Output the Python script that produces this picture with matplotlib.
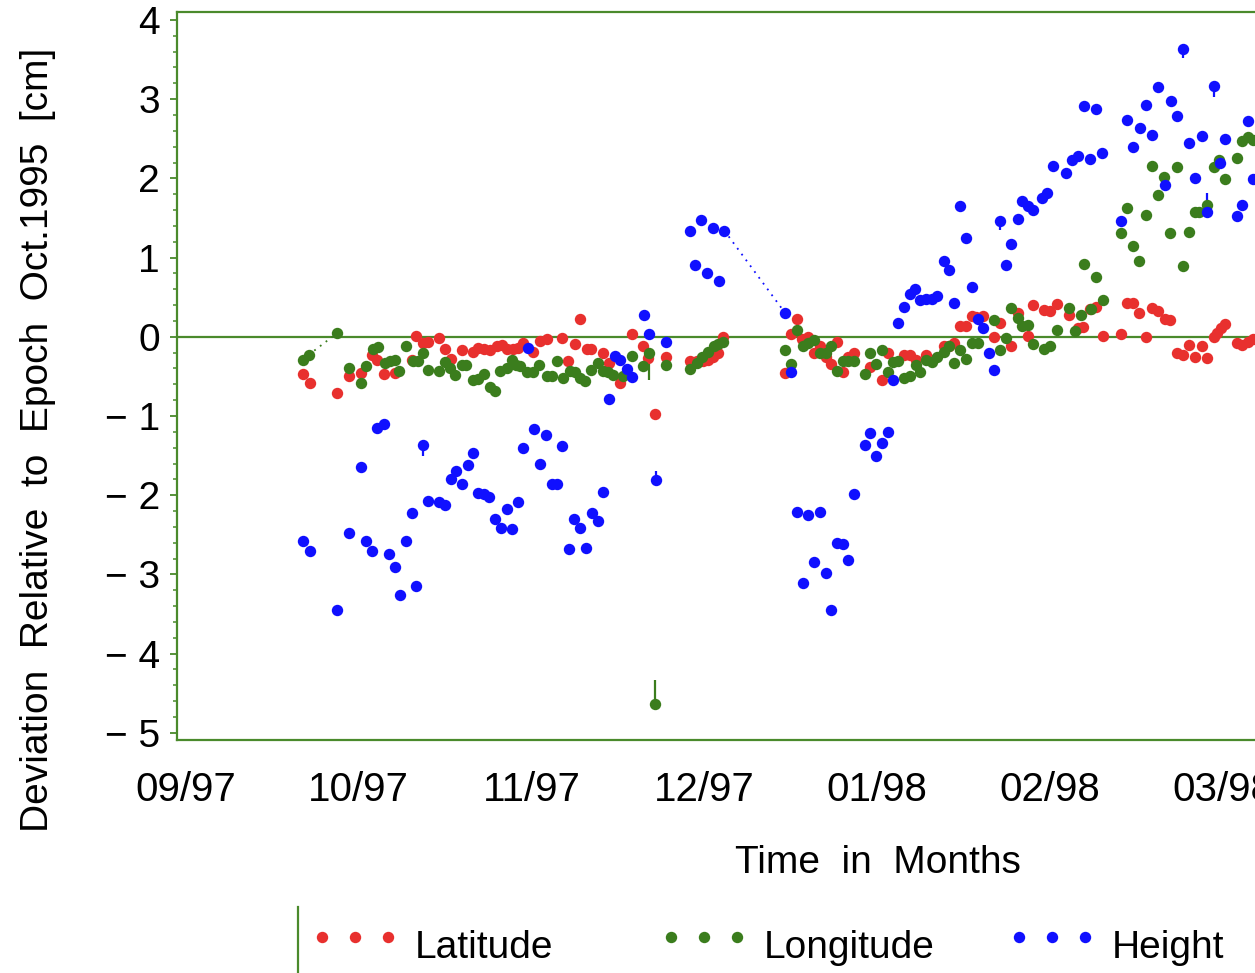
import numpy as np
import matplotlib
matplotlib.use("Agg")
import matplotlib.pyplot as plt
from matplotlib.lines import Line2D
from matplotlib.ticker import FixedLocator, FuncFormatter, MultipleLocator

plt.rcParams["font.family"] = ["Liberation Sans", "DejaVu Sans"]

# Daily GPS solutions: day counted from 1 Sep 1997, deviation in cm
lat_day = [21.0, 22.2, 27.0, 29.1, 31.1, 33.0, 33.9, 35.1, 37.1, 40.1,
           40.9, 42.1, 43.0, 44.9, 45.9, 46.9, 48.9, 50.9, 51.8, 52.7,
           53.8, 55.0, 55.9, 56.8, 57.9, 58.8, 59.7, 61.5, 62.6, 63.8,
           66.6, 67.6, 68.8, 69.7, 70.9, 71.7, 73.7, 74.8, 76.7, 78.9,
           80.8, 81.7, 82.9, 84.9, 89.0, 90.2, 91.4, 92.3, 93.1, 94.0,
           94.9, 105.8, 106.8, 107.9, 108.8, 109.9, 110.9, 111.9, 112.9, 113.9,
           115.0, 115.9, 116.9, 117.9, 120.8, 122.8, 123.9, 126.8, 127.8, 128.8,
           130.6, 131.6, 133.7, 134.7, 135.6, 136.6, 137.6, 138.6, 139.4, 140.6,
           142.5, 143.6, 145.6, 146.7, 148.5, 149.5, 151.4, 152.4, 153.6, 155.7,
           157.3, 158.3, 159.5, 160.5, 161.7, 164.9, 166.0, 167.1, 168.1, 169.3,
           170.3, 171.5, 172.7, 173.5, 174.7, 175.8, 176.9, 177.9, 179.1, 180.1,
           181.2, 181.9, 182.6, 183.3, 185.3, 186.3, 187.2, 188.1]
lat_val = [-0.47, -0.58, -0.71, -0.50, -0.46, -0.23, -0.29, -0.47, -0.46, -0.29,
           0.01, -0.08, -0.07, -0.02, -0.16, -0.28, -0.17, -0.19, -0.14, -0.16,
           -0.17, -0.12, -0.10, -0.16, -0.16, -0.14, -0.08, -0.19, -0.05, -0.03,
           -0.02, -0.30, -0.09, 0.22, -0.16, -0.16, -0.21, -0.33, -0.58, 0.03,
           -0.12, -0.27, -0.97, -0.25, -0.30, -0.31, -0.31, -0.29, -0.25, -0.21,
           0.00, -0.46, 0.03, 0.23, -0.03, 0.00, -0.20, -0.11, -0.25, -0.34,
           -0.06, -0.44, -0.25, -0.21, -0.38, -0.54, -0.21, -0.23, -0.23, -0.29,
           -0.23, -0.29, -0.12, -0.11, -0.08, 0.14, 0.14, 0.26, 0.25, 0.26,
           0.00, 0.17, -0.12, 0.30, 0.01, 0.40, 0.34, 0.32, 0.42, 0.28,
           0.11, 0.12, 0.35, 0.38, 0.01, 0.03, 0.43, 0.43, 0.30, 0.00,
           0.36, 0.33, 0.22, 0.21, -0.20, -0.23, -0.10, -0.26, -0.11, -0.27,
           0.00, 0.05, 0.11, 0.16, -0.08, -0.10, -0.06, -0.03]

lon_day = [21.0, 21.9, 27.0, 29.1, 31.1, 32.1, 33.3, 34.2, 35.4, 36.2,
           37.1, 37.9, 39.1, 40.3, 41.2, 42.1, 43.0, 44.9, 45.9, 46.8,
           47.7, 48.9, 49.7, 50.9, 51.8, 52.7, 53.8, 54.7, 55.6, 56.8,
           57.7, 58.5, 59.1, 60.3, 61.5, 62.5, 63.8, 64.7, 65.6, 66.7,
           67.9, 68.8, 69.7, 70.6, 71.7, 72.9, 73.8, 74.7, 75.5, 77.3,
           78.8, 80.8, 81.9, 82.9, 84.9, 89.0, 90.2, 91.1, 92.2, 93.2,
           94.0, 94.9, 105.8, 106.8, 107.9, 108.9, 109.9, 110.9, 111.9, 112.9,
           113.9, 115.0, 115.9, 116.9, 117.9, 119.8, 120.7, 121.8, 122.8, 123.9,
           124.7, 125.7, 126.7, 127.8, 128.8, 129.6, 130.6, 131.6, 132.5, 133.7,
           134.7, 135.6, 136.6, 137.6, 138.6, 139.7, 142.5, 143.6, 144.6, 145.6,
           146.7, 147.5, 148.5, 149.5, 151.4, 152.4, 153.6, 155.8, 156.8, 157.9,
           158.4, 159.6, 160.5, 161.7, 164.9, 166.0, 167.1, 168.1, 169.3, 170.3,
           171.5, 172.5, 173.5, 174.7, 175.8, 176.9, 177.9, 178.7, 180.0, 181.2,
           182.2, 183.3, 185.3, 186.3, 187.2, 188.1]
lon_val = [-0.29, -0.23, 0.05, -0.40, -0.58, -0.37, -0.15, -0.13, -0.33, -0.30,
           -0.29, -0.43, -0.12, -0.31, -0.31, -0.20, -0.42, -0.43, -0.32, -0.40,
           -0.48, -0.35, -0.35, -0.54, -0.53, -0.47, -0.64, -0.68, -0.43, -0.40,
           -0.29, -0.35, -0.37, -0.44, -0.44, -0.35, -0.49, -0.50, -0.31, -0.52,
           -0.43, -0.44, -0.52, -0.56, -0.42, -0.33, -0.43, -0.44, -0.48, -0.50,
           -0.24, -0.37, -0.21, -4.63, -0.35, -0.41, -0.33, -0.25, -0.19, -0.12,
           -0.09, -0.06, -0.17, -0.34, 0.09, -0.12, -0.08, -0.04, -0.21, -0.21,
           -0.12, -0.43, -0.31, -0.30, -0.30, -0.47, -0.21, -0.34, -0.17, -0.45,
           -0.32, -0.31, -0.52, -0.49, -0.35, -0.45, -0.29, -0.32, -0.25, -0.19,
           -0.12, -0.33, -0.17, -0.28, -0.08, -0.08, 0.21, -0.17, -0.02, 0.36,
           0.24, 0.14, 0.15, -0.09, -0.16, -0.12, 0.09, 0.36, 0.07, 0.28,
           0.92, 0.35, 0.76, 0.46, 1.31, 1.62, 1.15, 0.96, 1.54, 2.16,
           1.79, 2.02, 1.31, 2.14, 0.89, 1.32, 1.58, 1.58, 1.66, 2.14,
           2.23, 1.99, 2.26, 2.47, 2.52, 2.49]

hgt_day = [21.0, 22.2, 27.0, 29.1, 31.1, 32.1, 33.1, 34.0, 35.1, 36.1,
           37.1, 38.0, 39.0, 40.1, 40.9, 42.0, 43.0, 44.9, 45.9, 46.9,
           47.9, 48.9, 49.9, 50.8, 51.8, 52.7, 53.7, 54.7, 55.7, 56.8,
           57.7, 58.7, 59.7, 60.6, 61.6, 62.6, 63.7, 64.7, 65.7, 66.6,
           67.7, 68.7, 69.7, 70.7, 71.8, 72.8, 73.8, 74.8, 75.8, 76.7,
           77.9, 78.8, 81.0, 81.9, 83.0, 84.9, 89.0, 90.0, 91.0, 92.0,
           93.1, 94.1, 95.1, 105.8, 106.8, 107.9, 108.9, 109.9, 110.9, 111.9,
           112.9, 113.9, 115.0, 115.9, 116.9, 117.9, 119.8, 120.8, 121.8, 122.8,
           123.9, 124.7, 125.7, 126.7, 127.7, 128.6, 129.6, 130.6, 131.6, 132.6,
           133.7, 134.7, 135.6, 136.6, 137.6, 138.6, 139.7, 140.6, 141.7, 142.5,
           143.6, 144.6, 145.6, 146.7, 147.5, 148.5, 149.5, 151.0, 151.9, 153.0,
           155.2, 156.3, 157.4, 158.4, 159.5, 160.5, 161.6, 164.9, 166.0, 167.1,
           168.2, 169.3, 170.3, 171.4, 172.7, 173.7, 174.7, 175.8, 176.9, 178.0,
           179.1, 180.1, 181.3, 182.4, 183.3, 185.3, 186.3, 187.3, 188.2]
hgt_val = [-2.58, -2.70, -3.45, -2.48, -1.64, -2.58, -2.71, -1.15, -1.10, -2.74,
           -2.91, -3.26, -2.58, -2.23, -3.14, -1.37, -2.07, -2.08, -2.12, -1.80,
           -1.69, -1.86, -1.62, -1.47, -1.97, -1.98, -2.02, -2.30, -2.42, -2.18,
           -2.43, -2.08, -1.41, -0.14, -1.17, -1.60, -1.24, -1.86, -1.86, -1.38,
           -2.68, -2.30, -2.42, -2.66, -2.23, -2.33, -1.96, -0.79, -0.24, -0.29,
           -0.41, -0.51, 0.27, 0.03, -1.81, -0.07, 1.34, 0.90, 1.48, 0.80,
           1.37, 0.71, 1.34, 0.30, -0.44, -2.21, -3.11, -2.25, -2.84, -2.21,
           -2.98, -3.45, -2.60, -2.61, -2.82, -1.98, -1.36, -1.22, -1.51, -1.34,
           -1.20, -0.54, 0.17, 0.38, 0.54, 0.60, 0.47, 0.48, 0.48, 0.52,
           0.96, 0.84, 0.43, 1.65, 1.25, 0.63, 0.22, 0.11, -0.21, -0.42,
           1.46, 0.91, 1.17, 1.49, 1.71, 1.65, 1.60, 1.75, 1.82, 2.16,
           2.07, 2.23, 2.28, 2.91, 2.25, 2.87, 2.32, 1.46, 2.74, 2.40,
           2.63, 2.92, 2.55, 3.15, 1.92, 2.98, 2.79, 3.63, 2.45, 2.00,
           2.53, 1.57, 3.16, 2.19, 2.50, 1.53, 1.66, 2.72, 1.99]

# Formal error bars that stick out of the markers
err_series = ["Longitude", "Longitude", "Height", "Height", "Height",
              "Height", "Height", "Height", "Height"]
err_day = [82.9, 81.9, 83.0, 42.0, 175.8, 181.3, 180.1, 143.6, 91.0]
err_low = [-4.63, -0.54, -1.81, -1.51, 3.52, 3.03, 1.57, 1.35, 1.41]
err_high = [-4.33, -0.21, -1.70, -1.37, 3.63, 3.16, 1.82, 1.46, 1.48]

# Dotted joins across gaps in the record
link_series = ["Longitude", "Height"]
link_from = [21.9, 95.1]
link_to = [27.0, 105.8]

month_labels = ["09/97", "10/97", "11/97", "12/97", "01/98", "02/98", "03/98"]
marked_months = ["09/97", "11/97", "12/97", "02/98"]
y_major = list(range(-5, 5))

RED = "#e8302e"
GREEN = "#3b7d1d"
BLUE = "#1010ff"
AXIS = "#4a8a2c"

series = {
    "Latitude": (lat_day, lat_val, RED),
    "Longitude": (lon_day, lon_val, GREEN),
    "Height": (hgt_day, hgt_val, BLUE),
}


def to_year(days):
    """Days after 1 Sep 1997 -> decimal year."""
    return 1997 + (243 + np.asarray(days, dtype=float)) / 365.0


def month_pos(label):
    mm, yy = label.split("/")
    return 1900 + int(yy) + (int(mm) - 1) / 12.0


W, H = 1255, 973
fig = plt.figure(figsize=(W / 100, H / 100), dpi=100)
ax = fig.add_axes([177 / W, 233 / H, 1218.6 / W, 728 / H])

ax.axhline(0, color=AXIS, lw=1.6, zorder=1)

for name, frm, to in zip(link_series, link_from, link_to):
    d, v, c = series[name]
    i, j = d.index(frm), d.index(to)
    ax.plot(to_year([d[i], d[j]]), [v[i], v[j]], ls=(0, (1, 3)), lw=1.3,
            color=c, zorder=2)

for name, day, lo, hi in zip(err_series, err_day, err_low, err_high):
    ax.vlines(to_year([day])[0], lo, hi, color=series[name][2], lw=1.6, zorder=2)

MS = 8.2
for name, (d, v, c) in series.items():
    ax.plot(to_year(d), v, ls="none", marker="o", ms=MS, mew=0, color=c,
            zorder=3, clip_on=False)

ax.set_xlim(1997 + 8 / 12 - 9 / 2073.6, 1998.25)
ax.set_ylim(-5.09, 4.10)

ax.xaxis.set_major_locator(FixedLocator([month_pos(m) for m in month_labels]))
ax.set_xticklabels(month_labels)
ax.xaxis.set_minor_locator(FixedLocator([month_pos(m) for m in marked_months]))
ax.tick_params(axis="x", which="major", length=0, pad=22.5, labelsize=29)
ax.tick_params(axis="x", which="minor", length=7, width=1.3, color=AXIS,
               direction="out")

ax.yaxis.set_major_locator(FixedLocator(y_major))
ax.yaxis.set_minor_locator(MultipleLocator(0.2))
ax.yaxis.set_major_formatter(FuncFormatter(
    lambda v, p: ("\u2212 %d" % abs(v)) if v < 0 else "%d" % v))
ax.tick_params(axis="y", which="major", length=5, width=1.3, color=AXIS,
               pad=7.2, labelsize=28, direction="out")
ax.tick_params(axis="y", which="minor", length=3, width=1.1, color=AXIS,
               direction="out")

for side in ("left", "bottom", "top"):
    ax.spines[side].set_color(AXIS)
    ax.spines[side].set_linewidth(1.6)
ax.spines["right"].set_visible(False)

ax.set_ylabel("Deviation  Relative  to  Epoch  Oct.1995  [cm]", fontsize=28)
ax.yaxis.set_label_coords(-0.0993, 0.412)
ax.set_xlabel("Time  in  Months", fontsize=28)
ax.xaxis.set_label_coords(0.575, -0.144)

# Legend row below the plot
fig.add_artist(Line2D([298 / W, 298 / W], [1 - 907 / H, 0],
                      transform=fig.transFigure, color=AXIS, lw=1.6))
legend_x = {"Latitude": 322, "Longitude": 671, "Height": 1019}
for name, (d, v, c) in series.items():
    x0 = legend_x[name]
    xs = [(x0 + k * 33) / W for k in range(3)]
    fig.add_artist(Line2D(xs, [1 - 937 / H] * 3, transform=fig.transFigure,
                          ls="none", marker="o", ms=MS, mew=0, color=c))
    fig.text((x0 + 93) / W, 1 - 958 / H, name, fontsize=28,
             ha="left", va="baseline")

fig.savefig("out.png", dpi=100)
